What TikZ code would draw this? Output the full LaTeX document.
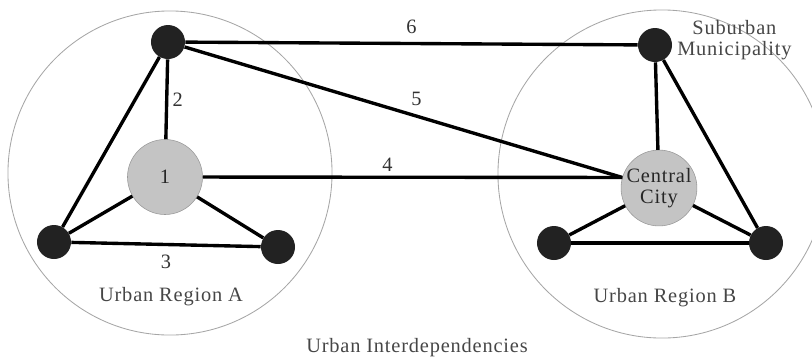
\documentclass[tikz,border=0pt]{standalone}
\usepackage{fontspec}
\setmainfont[LetterSpace=4]{Liberation Serif}
\usepackage{tikz}
\usetikzlibrary{positioning}
\definecolor{hubc}{RGB}{196,196,196}
\definecolor{munc}{RGB}{34,34,34}
\definecolor{txtc}{RGB}{70,70,70}

\begin{document}
\begin{tikzpicture}[x=0.025cm,y=-0.025cm,font=\fontsize{14.5}{15}\selectfont,
  region/.style={draw=gray!70,line width=0.6pt},
  muni/.style={circle,fill=munc,minimum size=0.85cm,inner sep=0pt},
  city/.style={circle,draw=gray!80,fill=hubc,minimum size=1.875cm,inner sep=0pt,align=center,text=black!85},
  link/.style={line width=2.4pt},
  num/.style={text=black!80,inner sep=1pt},
  lbl/.style={text=txtc}]
\useasboundingbox (0,0) rectangle (812,358);
% ---- the two urban regions ----
\draw[region] (170,173) circle[radius=4.05cm];
\draw[region] (662,174) circle[radius=4.1cm];
% ---- urban region A ----
\node[muni] (ta) at (168,42) {};
\node[city] (one) at (165,177) {1};
\node[muni] (la) at (54,242) {};
\node[muni] (ra) at (278,247) {};
\draw[link] (ta) -- node[num,right=2pt]{2} (one);
\draw[link] (ta) -- (la);
\draw[link] (one) -- (la);
\draw[link] (one) -- (ra);
\draw[link] (la) -- node[num,below=5pt]{3} (ra);
\node[lbl] (rega) at (171,297) {Urban Region A};
% ---- urban region B ----
\node[muni] (sb) at (655,45) {};
\node[city] (cc) at (659,188) {Central\\City};
\node[muni] (lb) at (554,243) {};
\node[muni] (rb) at (766,243) {};
\node[lbl,align=center,right=0pt of sb,yshift=0.12cm] (subl) {Suburban\\Municipality};
\draw[link] (sb) -- (cc);
\draw[link] (sb) -- (rb);
\draw[link] (cc) -- (lb);
\draw[link] (cc) -- (rb);
\draw[link] (lb) -- (rb);
\node[lbl] (regb) at (665,298) {Urban Region B};
% ---- links between the regions ----
\draw[link] (ta) -- node[num,above=5pt,pos=0.5]{6} (sb);
\draw[link] (ta) -- node[num,above=5pt,pos=0.53]{5} (cc.164);
\draw[link] (one) -- node[num,above=2pt,pos=0.44]{4} (cc.164);
\node[lbl] (title) at (417,348) {Urban Interdependencies};
\end{tikzpicture}
\end{document}
